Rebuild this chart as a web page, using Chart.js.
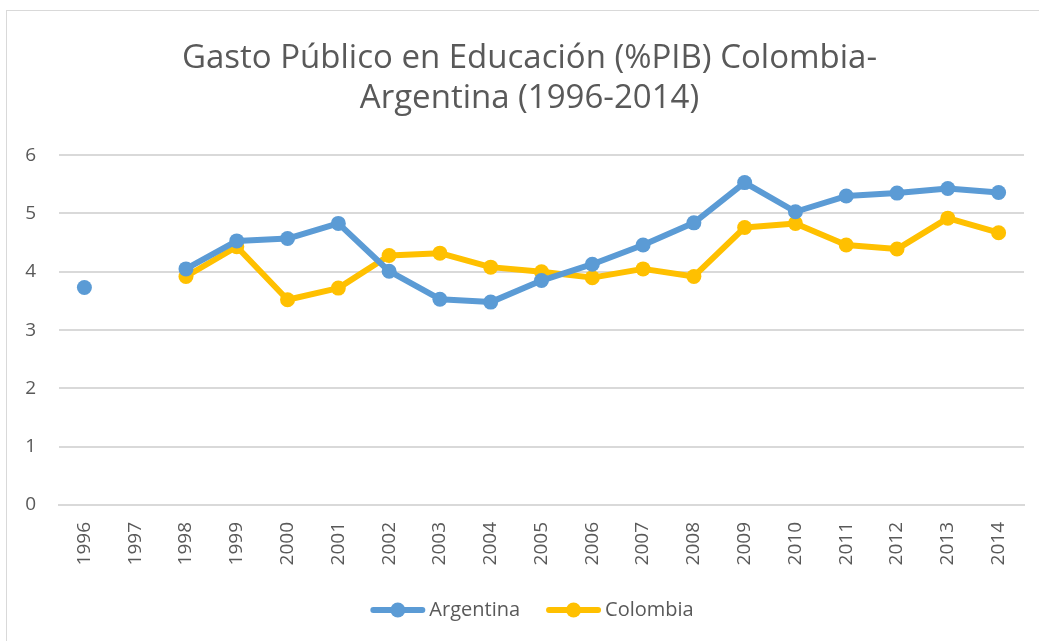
<!DOCTYPE html>
<html lang="es">
<head>
<meta charset="utf-8">
<title>Gasto Público en Educación (%PIB) Colombia-Argentina (1996-2014)</title>
<script src="https://cdn.jsdelivr.net/npm/chart.js@4/dist/chart.umd.min.js"></script>
<style>
  html, body { margin: 0; padding: 0; background: #fff; overflow: hidden; }
  #marco {
    position: absolute; left: 6px; top: 10px;
    width: 1100px; height: 700px;
    border: 1px solid #d9d9d9;
  }
  /* el lienzo es más ancho que la ventana para que el título quede centrado como en Excel */
  #wrap { position: absolute; left: 0; top: 0; width: 1059px; height: 641px; }
</style>
</head>
<body>
<div id="marco"></div>
<div id="wrap"><canvas id="grafico"></canvas></div>
<script>
  // Datos
  const anios = ['1996', '1997', '1998', '1999', '2000', '2001', '2002', '2003', '2004', '2005',
                 '2006', '2007', '2008', '2009', '2010', '2011', '2012', '2013', '2014'];
  const argentina = [3.73, null, 4.05, 4.53, 4.57, 4.83, 4.01, 3.53, 3.48, 3.85,
                     4.13, 4.46, 4.84, 5.53, 5.03, 5.30, 5.35, 5.43, 5.36];
  const colombia = [null, null, 3.92, 4.43, 3.52, 3.72, 4.28, 4.32, 4.08, 4.00,
                    3.90, 4.05, 3.92, 4.76, 4.83, 4.46, 4.39, 4.92, 4.67];
  const titulo = ['Gasto Público en Educación (%PIB) Colombia-', 'Argentina (1996-2014)'];

  const AZUL = '#5b9bd5';
  const AMARILLO = '#ffc000';
  const TEXTO = '#595959';
  const REJILLA = '#d9d9d9';
  const FUENTE = "'Open Sans', 'DejaVu Sans', sans-serif";

  /**
   * Leyenda estilo Excel: línea con marcador circular en el centro.
   */
  const leyendaExcel = {
    id: 'leyendaExcel',
    afterDraw(chart) {
      const ctx = chart.ctx;
      const largo = 55, hueco = 4, separacion = 26, y = 610;
      ctx.save();
      ctx.font = `20px ${FUENTE}`;
      const items = chart.data.datasets.map(ds => ({
        ds, ancho: largo + hueco + ctx.measureText(ds.label).width
      }));
      const total = items.reduce((acc, it) => acc + it.ancho, 0) + separacion * (items.length - 1);
      let x = 532 - total / 2;
      items.forEach(({ ds, ancho }) => {
        ctx.strokeStyle = ds.borderColor;
        ctx.lineWidth = ds.borderWidth;
        ctx.lineCap = 'round';
        ctx.beginPath();
        ctx.moveTo(x + 3, y);
        ctx.lineTo(x + largo - 3, y);
        ctx.stroke();
        ctx.fillStyle = ds.backgroundColor;
        ctx.beginPath();
        ctx.arc(x + largo / 2, y, ds.pointRadius, 0, Math.PI * 2);
        ctx.fill();
        ctx.fillStyle = TEXTO;
        ctx.textAlign = 'left';
        ctx.textBaseline = 'middle';
        ctx.fillText(ds.label, x + largo + hueco, y);
        x += ancho + separacion;
      });
      ctx.restore();
    }
  };

  function serie(label, data, color) {
    return {
      label,
      data,
      borderColor: color,
      backgroundColor: color,
      borderWidth: 6,
      borderJoinStyle: 'round',
      borderCapStyle: 'round',
      pointRadius: 7.5,
      pointHoverRadius: 7.5,
      pointBorderWidth: 0,
      pointBackgroundColor: color,
      spanGaps: false,
      tension: 0
    };
  }

  new Chart(document.getElementById('grafico'), {
    type: 'line',
    data: {
      labels: anios,
      datasets: [
        serie('Argentina', argentina, AZUL),
        serie('Colombia', colombia, AMARILLO)
      ]
    },
    options: {
      responsive: true,
      maintainAspectRatio: false,
      animation: false,
      layout: { padding: 0 },
      plugins: {
        legend: { display: false },
        tooltip: { enabled: false },
        title: {
          display: true,
          text: titulo,
          color: TEXTO,
          font: { family: FUENTE, size: 33, weight: 'normal', lineHeight: 1.2 },
          padding: { top: 39, bottom: 37 }
        }
      },
      scales: {
        x: {
          offset: true,
          grid: { display: false, drawTicks: false },
          border: { display: true, color: REJILLA, width: 2 },
          ticks: {
            color: TEXTO,
            font: { family: FUENTE, size: 19 },
            autoSkip: false,
            minRotation: 90,
            maxRotation: 90,
            padding: 17
          },
          afterFit: (s) => { s.height = 136; }
        },
        y: {
          min: 0,
          max: 6,
          grid: { color: REJILLA, lineWidth: 2, drawTicks: false },
          border: { display: false },
          ticks: {
            stepSize: 1,
            color: TEXTO,
            font: { family: FUENTE, size: 19 },
            padding: 23
          },
          afterFit: (s) => { s.width = 59; }
        },
        // eje vacío a la derecha: sólo reserva espacio
        margen: {
          type: 'linear',
          position: 'right',
          display: true,
          grid: { display: false, drawTicks: false },
          border: { display: false },
          ticks: { display: false },
          afterFit: (s) => { s.width = 35; }
        }
      }
    },
    plugins: [leyendaExcel]
  });
</script>
</body>
</html>
